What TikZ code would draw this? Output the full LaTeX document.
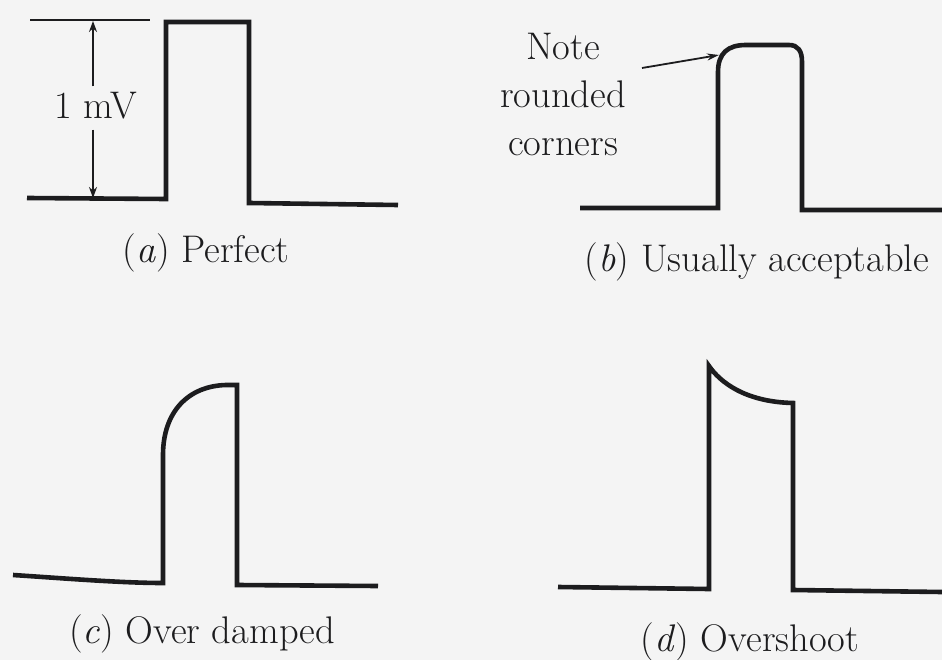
\documentclass[tikz,border=0pt]{standalone}
\usepackage{fontspec}
\usetikzlibrary{arrows.meta}
\definecolor{ink}{RGB}{28,28,30}
\definecolor{paper}{RGB}{244,244,244}
\tikzset{
  wave/.style={draw=ink, line width=4.6pt, line join=miter},
  refline/.style={draw=ink, line width=2.6pt},
  dimarrow/.style={draw=ink, line width=2pt, -{Stealth[length=11pt,width=8pt]}},
  notearrow/.style={draw=ink, line width=1.8pt, -{Stealth[length=12pt,width=7pt]}},
  caption/.style={text=ink, font=\fontsize{38.5}{46}\selectfont, inner sep=0pt},
  note/.style={text=ink, font=\fontsize{38.5}{48}\selectfont, align=center, inner sep=0pt}
}
\begin{document}
\begin{tikzpicture}[x=1pt, y=-1pt]
\fill[paper] (0,0) rectangle (942,660);
\useasboundingbox (0,0) rectangle (942,660);

% (a) Perfect
\draw[refline] (30,20) -- (150,20);
\draw[wave] (27,198) -- (166,199) -- (166,22) -- (249,22) -- (249,203) -- (398,205);
\node[caption] (lbl1mv) at (96,106) {1 mV};
\coordinate (aTopArr) at (93,21);
\coordinate (aBotArr) at (93,198);
\draw[dimarrow] (lbl1mv.north -| aTopArr) ++(0,-6) -- (aTopArr);
\draw[dimarrow] (lbl1mv.south -| aBotArr) ++(0,10) -- (aBotArr);
\node[caption] (capa) at (206,253) {(\textit{a}) Perfect};

% (b) Usually acceptable
\draw[wave] (580,208) -- (718,208) -- (718,72)
  .. controls (718,53) and (728,45) .. (746,45) -- (789,45)
  .. controls (798,45) and (802,51) .. (802,62) -- (802,210) -- (942,210);
\node[note] (noteb) at (563,95) {Note\\rounded\\corners};
\coordinate (noteStart) at (642,68);
\coordinate (noteTip) at (719,55);
\draw[notearrow] (noteStart) -- (noteTip);
\node[caption] (capb) at (757,262) {(\textit{b}) Usually acceptable};

% (c) Over damped
\draw[wave] (13,575) .. controls (60,578) and (120,583) .. (163,583)
  -- (163,455) .. controls (163,412) and (188,386) .. (226,385)
  -- (237,385) -- (237,585) -- (378,586);
\node[caption] (capc) at (202,634) {(\textit{c}) Over damped};

% (d) Overshoot
\draw[wave] (558,587) -- (709,589) -- (709,366)
  .. controls (720,382) and (745,402) .. (793,403)
  -- (793,590) -- (942,592);
\node[caption] (capd) at (750,642) {(\textit{d}) Overshoot};
\end{tikzpicture}
\end{document}
